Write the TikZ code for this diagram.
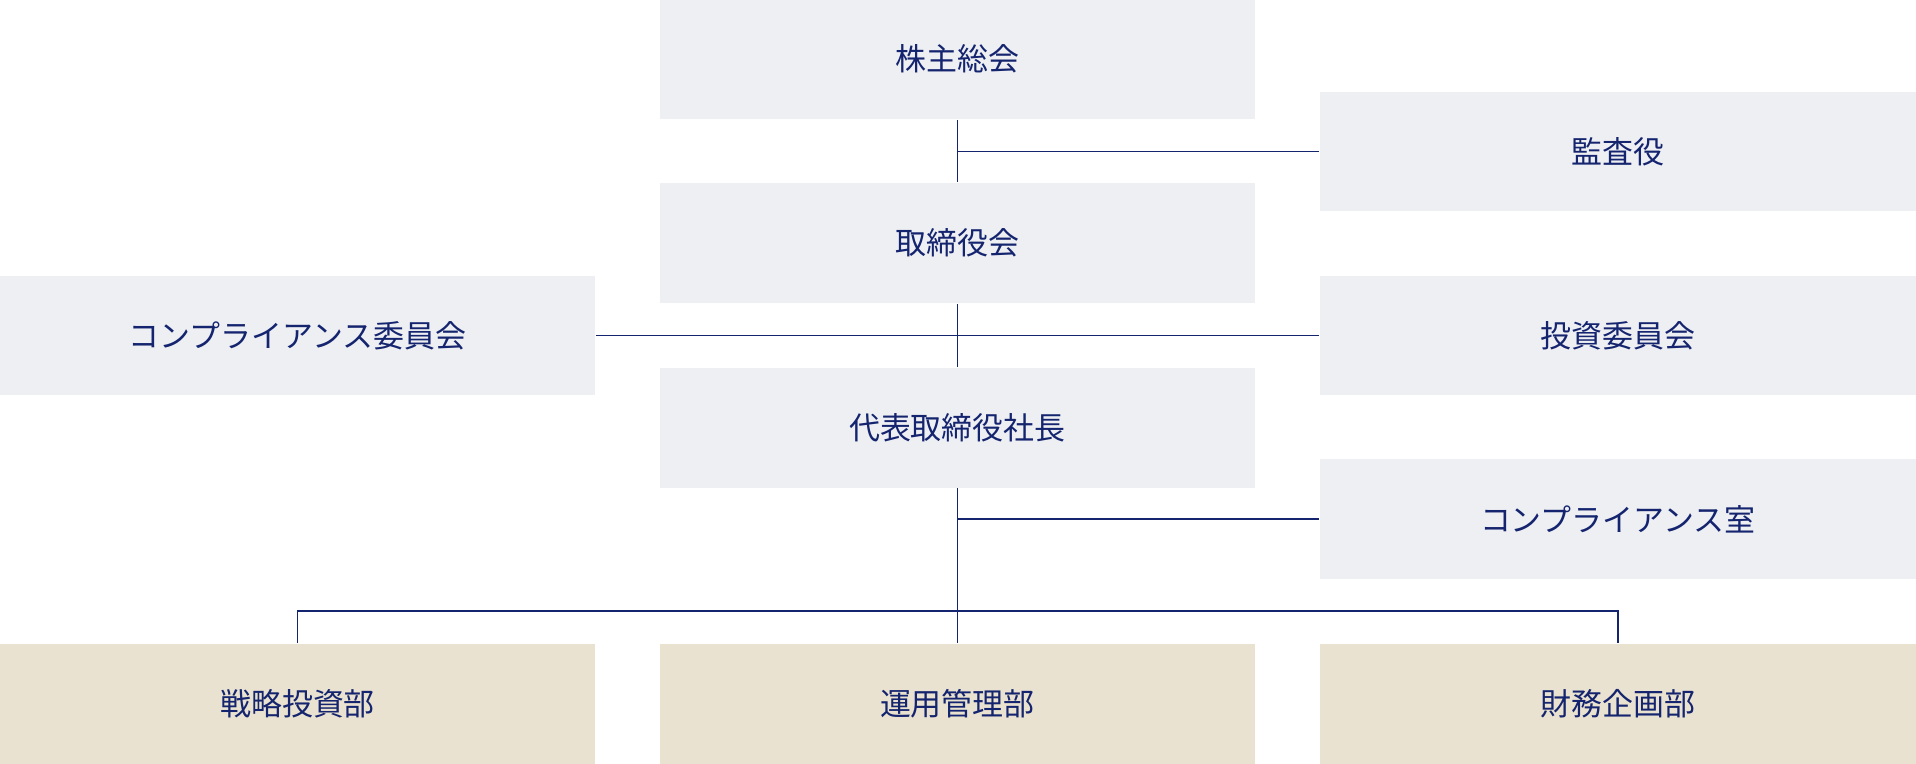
\documentclass[tikz,border=0pt]{standalone}
\usepackage{fontspec}
\setmainfont{Noto Sans CJK JP}
\definecolor{navy}{HTML}{14246E}
\definecolor{boxgray}{HTML}{EEEFF3}
\definecolor{boxbeige}{HTML}{EAE2D0}
\tikzset{
  orgbox/.style={fill=boxgray, minimum width=4.87cm, minimum height=0.98cm, inner sep=0pt, text=navy, font=\fontsize{7.2pt}{8pt}\selectfont},
  deptbox/.style={orgbox, fill=boxbeige},
  link/.style={draw=navy, line width=0.4pt}
}
\begin{document}
\begin{tikzpicture}[x=0.01cm, y=-0.01cm]
        \useasboundingbox (0,0) rectangle (1568,625);

        % Cuerpos de gobierno
        \node[orgbox] (meeting) at (783.5,48.5) {株主総会};
        \node[orgbox] (auditor) at (1324,124) {監査役};
        \node[orgbox] (board) at (783.5,199) {取締役会};
        \node[orgbox] (compcomm) at (243.5,274.5) {コンプライアンス委員会};
        \node[orgbox] (invcomm) at (1324,274.5) {投資委員会};
        \node[orgbox] (ceo) at (783.5,350) {代表取締役社長};
        \node[orgbox] (compoffice) at (1324,425) {コンプライアンス室};

        % Departamentos
        \node[deptbox] (strategy) at (243.5,576) {戦略投資部};
        \node[deptbox] (operation) at (783.5,576) {運用管理部};
        \node[deptbox] (finance) at (1324,576) {財務企画部};

        % Puntos de union
        \coordinate (j1) at (783.5,124);
        \coordinate (j2) at (783.5,274.5);
        \coordinate (j3) at (783.5,425);
        \coordinate (j4) at (783.5,500);

        % Conexiones
        \draw[link] (meeting.south) -- (board.north);
        \draw[link] (j1) -- (auditor.west);
        \draw[link] (board.south) -- (ceo.north);
        \draw[link] (compcomm.east) -- (invcomm.west);
        \draw[link] (ceo.south) -- (operation.north);
        \draw[link] (j3) -- (compoffice.west);
        \draw[link] (strategy.north) |- (j4) -| (finance.north);
    \end{tikzpicture}
\end{document}
